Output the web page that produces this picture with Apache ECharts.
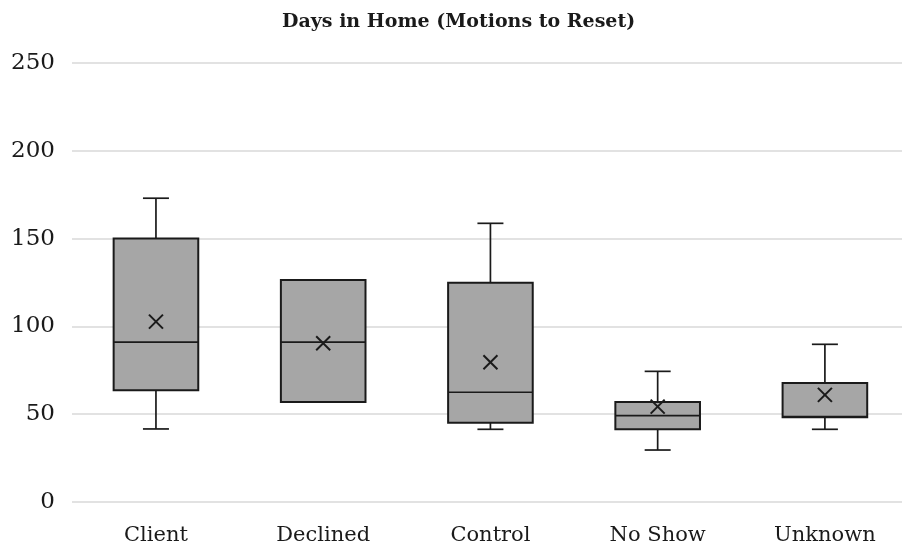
<!DOCTYPE html>
<html>
<head>
<meta charset="utf-8">
<script src="https://cdn.jsdelivr.net/npm/echarts@6/dist/echarts.min.js"></script>
<style>html,body{margin:0;padding:0;background:#fff}#c{width:902px;height:548px}</style>
</head>
<body>
<div id="c"></div>
<script>
const categories = ['Client', 'Declined', 'Control', 'No Show', 'Unknown'];
const minVals    = [41.6, 57,   41.4, 29.6, 41.4];
const q1Vals     = [63.6, 57,   45.2, 41.4, 48.2];
const medianVals = [91,   91,   62.5, 49.2, 48.6];
const q3Vals     = [150,  126.4, 124.9, 57, 67.8];
const maxVals    = [173,  126.4, 158.7, 74.4, 89.8];
const meanVals   = [102.7, 90.4, 79.6, 54.3, 61];
const yTicks = { min: 0, max: 250, interval: 50 };

const catIdx = categories.map((c, i) => i);
const data = catIdx.map(i => [i, minVals[i], q1Vals[i], medianVals[i], q3Vals[i], maxVals[i], meanVals[i]]);

const SERIF = '"DejaVu Serif", "Liberation Serif", serif';
const chart = echarts.init(document.getElementById('c'), null, { renderer: 'canvas' });

function renderItem(params, api) {
  const i = api.value(0);
  const band = api.size([1, 0])[0];
  const half = band * 0.253;
  const capHalf = 13;
  const p = k => api.coord([i, api.value(k)]);
  const [cx, yMin] = p(1);
  const yQ1 = p(2)[1], yMed = p(3)[1], yQ3 = p(4)[1], yMax = p(5)[1], yMean = p(6)[1];
  const stroke = { stroke: '#1a1a1a', lineWidth: 1.7 };
  const children = [];
  if (yMax < yQ3 - 0.5) {
    children.push({ type: 'line', shape: { x1: cx, y1: yQ3, x2: cx, y2: yMax }, style: stroke });
    children.push({ type: 'line', shape: { x1: cx - capHalf, y1: yMax, x2: cx + capHalf, y2: yMax }, style: stroke });
  }
  if (yMin > yQ1 + 0.5) {
    children.push({ type: 'line', shape: { x1: cx, y1: yQ1, x2: cx, y2: yMin }, style: stroke });
    children.push({ type: 'line', shape: { x1: cx - capHalf, y1: yMin, x2: cx + capHalf, y2: yMin }, style: stroke });
  }
  children.push({ type: 'rect', shape: { x: cx - half, y: yQ3, width: half * 2, height: yQ1 - yQ3 },
    style: { fill: '#a6a6a6', stroke: '#1a1a1a', lineWidth: 2 } });
  children.push({ type: 'line', shape: { x1: cx - half, y1: yMed, x2: cx + half, y2: yMed }, style: stroke });
  const m = 7;
  const xs = { stroke: '#1a1a1a', lineWidth: 2 };
  children.push({ type: 'line', shape: { x1: cx - m, y1: yMean - m, x2: cx + m, y2: yMean + m }, style: xs });
  children.push({ type: 'line', shape: { x1: cx - m, y1: yMean + m, x2: cx + m, y2: yMean - m }, style: xs });
  return { type: 'group', children };
}

chart.setOption({
  animation: false,
  backgroundColor: '#fff',
  title: {
    text: 'Days in Home (Motions to Reset)',
    left: 277, top: 8,
    textStyle: { fontFamily: SERIF, fontSize: 19, fontWeight: 'bold', color: '#1a1a1a' }
  },
  grid: { left: 72, top: 63, right: 0, bottom: 46, containLabel: false },
  xAxis: {
    type: 'value', min: -0.502, max: 4.461,
    splitLine: { show: false },
    axisLine: { show: false }, axisTick: { show: false },
    axisLabel: {
      customValues: catIdx,
      formatter: v => categories[Math.round(v)],
      fontFamily: SERIF, fontSize: 21, color: '#1a1a1a', margin: 23
    }
  },
  yAxis: {
    type: 'value', min: yTicks.min, max: yTicks.max, interval: yTicks.interval,
    axisLine: { show: false }, axisTick: { show: false },
    axisLabel: { fontFamily: SERIF, fontSize: 23, color: '#1a1a1a', margin: 17 },
    splitLine: { lineStyle: { color: '#d9d9d9', width: 1.5 } }
  },
  series: [{
    type: 'custom', renderItem, data,
    encode: { x: 0, y: [1, 2, 3, 4, 5, 6] }
  }]
});
</script>
</body>
</html>
